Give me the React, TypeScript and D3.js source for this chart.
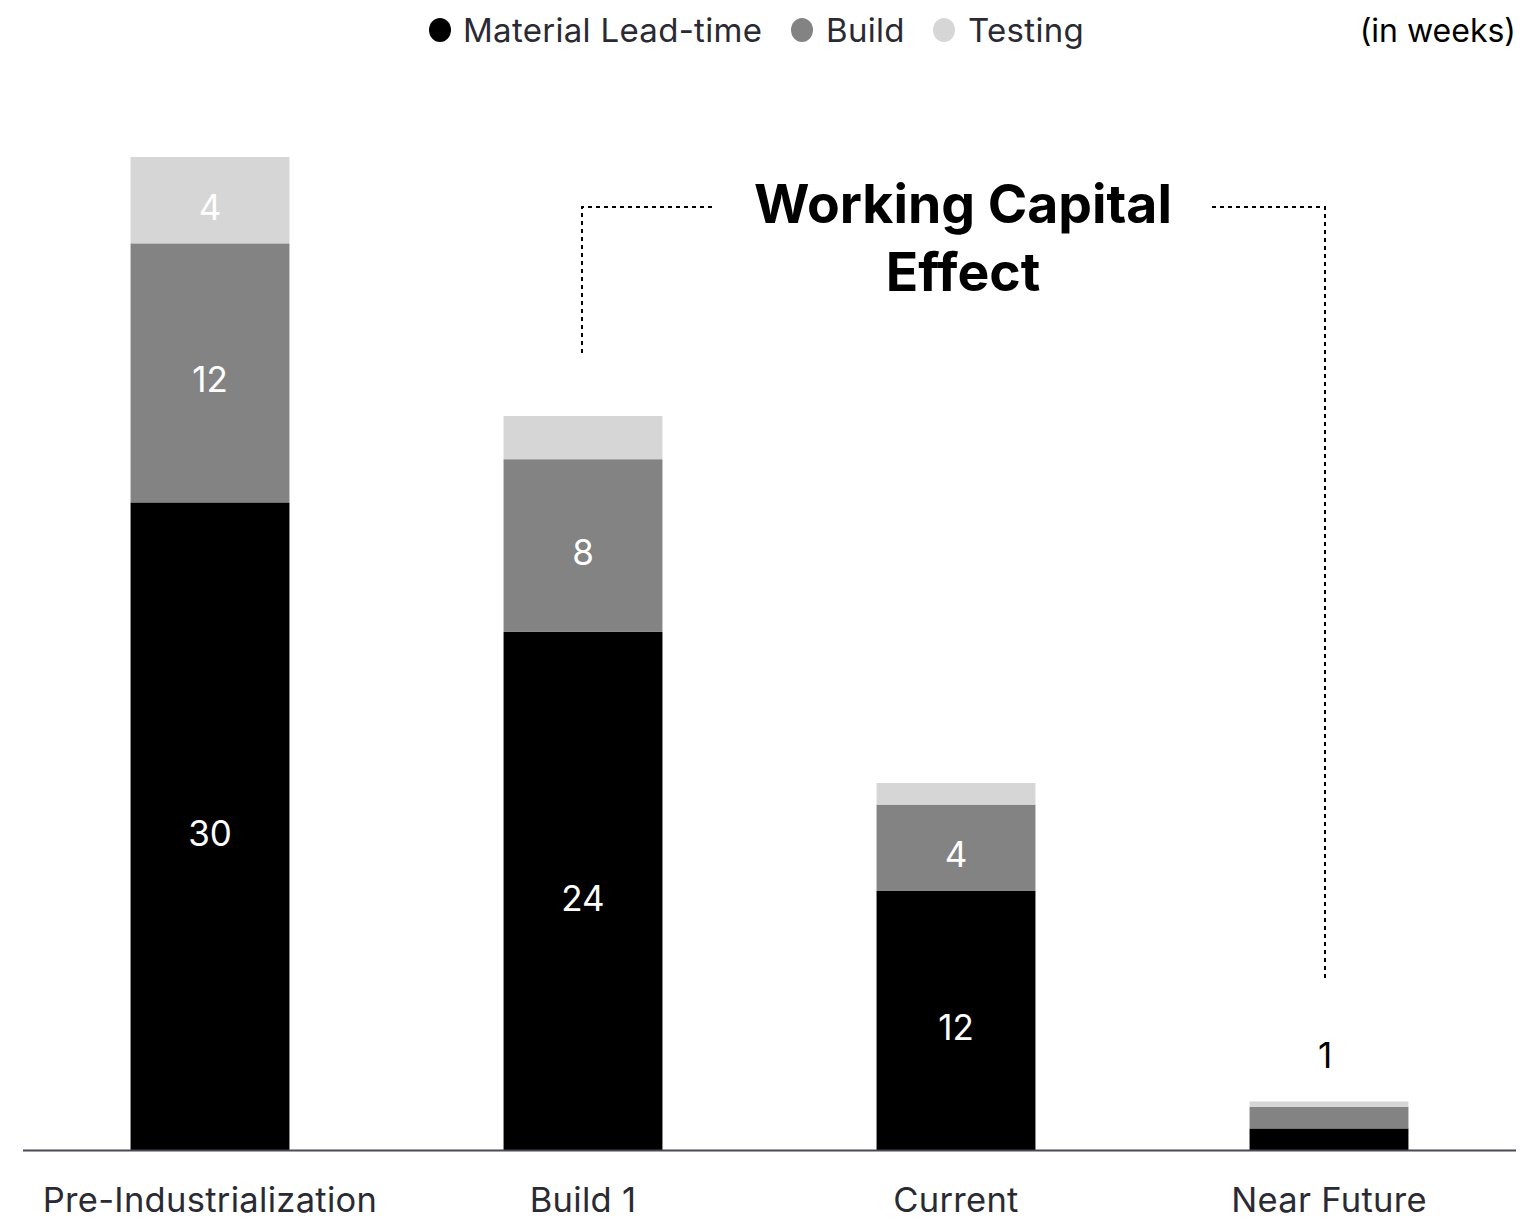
import React from "react";
import * as d3 from "d3";

const categories = ["Pre-Industrialization", "Build 1", "Current", "Near Future"];
const materialLeadTime = [30, 24, 12, 1];
const build = [12, 8, 4, 1];
const testing = [4, 2, 1, 0.25];
const materialLabels = ["30", "24", "12", ""];
const buildLabels = ["12", "8", "4", ""];
const testingLabels = ["4", "", "", ""];
const topLabels = ["", "", "", "1"];
const seriesNames = ["Material Lead-time", "Build", "Testing"];
const seriesColors = ["#000000", "#838383", "#d6d6d6"];

const W = 1526;
const H = 1219;
const FONT = "Inter, 'Noto Sans', sans-serif";
const TEXT = "#2a2a33";

export default function App() {
  const x = d3
    .scaleBand<string>()
    .domain(categories)
    .range([23.5, 1515.5])
    .paddingInner(0.574)
    .paddingOuter(0.287);
  const y = d3.scaleLinear().domain([0, 46]).range([1150, 157]);

  const rows = categories.map((c, i) => ({
    cat: c,
    m: materialLeadTime[i],
    b: build[i],
    t: testing[i],
  }));
  const stack = d3.stack<any>().keys(["m", "b", "t"])(rows);
  const labelSets = [materialLabels, buildLabels, testingLabels];

  const legendItems = [
    { cx: 440, tx: 463 },
    { cx: 802, tx: 826 },
    { cx: 944, tx: 968 },
  ];

  const cx1 = (x(categories[1]) ?? 0) + x.bandwidth() / 2 - 1;
  const cx3 = (x(categories[3]) ?? 0) + x.bandwidth() / 2 - 4;
  const bracketY = 207;

  return (
    <svg
      width={W}
      height={H}
      style={{ position: "absolute", left: 0, top: 0, background: "#fff" }}
      fontFamily={FONT}
    >
      {/* legend */}
      {seriesNames.map((name, i) => (
        <g key={name}>
          <ellipse cx={legendItems[i].cx} cy={30} rx={11} ry={12} fill={seriesColors[i]} />
          <text x={legendItems[i].tx} y={42} fontSize={33} fill={TEXT} letterSpacing={0.3}>
            {name}
          </text>
        </g>
      ))}
      <text x={1516} y={42} fontSize={32} fill="#000" textAnchor="end">
        (in weeks)
      </text>

      {/* bars */}
      {stack.map((layer, si) => (
        <g key={si} fill={seriesColors[si]}>
          {layer.map((d, i) => (
            <rect
              key={i}
              x={x(categories[i])}
              width={x.bandwidth()}
              y={y(d[1])}
              height={y(d[0]) - y(d[1])}
            />
          ))}
        </g>
      ))}
      {stack.map((layer, si) =>
        layer.map((d, i) =>
          labelSets[si][i] ? (
            <text
              key={`l${si}-${i}`}
              x={(x(categories[i]) ?? 0) + x.bandwidth() / 2}
              y={(y(d[0]) + y(d[1])) / 2 + 7}
              dy="0.36em"
              textAnchor="middle"
              fontSize={35}
              fill="#fff"
            >
              {labelSets[si][i]}
            </text>
          ) : null
        )
      )}
      {topLabels.map((t, i) =>
        t ? (
          <text
            key={`t${i}`}
            x={(x(categories[i]) ?? 0) + x.bandwidth() / 2 - 4}
            y={1055}
            dy="0.36em"
            textAnchor="middle"
            fontSize={35}
            fill="#000"
          >
            {t}
          </text>
        ) : null
      )}

      {/* baseline */}
      <line x1={23} x2={1516} y1={1150.5} y2={1150.5} stroke="#4a4a52" strokeWidth={2} />

      {/* category labels */}
      {categories.map((c) => (
        <text
          key={c}
          x={(x(c) ?? 0) + x.bandwidth() / 2}
          y={1212}
          textAnchor="middle"
          fontSize={34.5}
          letterSpacing={0.3}
          fill={TEXT}
        >
          {c}
        </text>
      ))}

      {/* bracket annotation */}
      <path
        d={`M${cx1},353 V${bracketY} H715`}
        fill="none"
        stroke="#000"
        strokeWidth={2}
        strokeDasharray="4,4"
      />
      <path
        d={`M1212,${bracketY} H${cx3} V980`}
        fill="none"
        stroke="#000"
        strokeWidth={2}
        strokeDasharray="4,4"
      />
      <text x={963} y={223} textAnchor="middle" fontSize={53.5} fontWeight={700} fill="#000">
        Working Capital
      </text>
      <text x={963} y={291} textAnchor="middle" fontSize={53.5} fontWeight={700} fill="#000">
        Effect
      </text>
    </svg>
  );
}
